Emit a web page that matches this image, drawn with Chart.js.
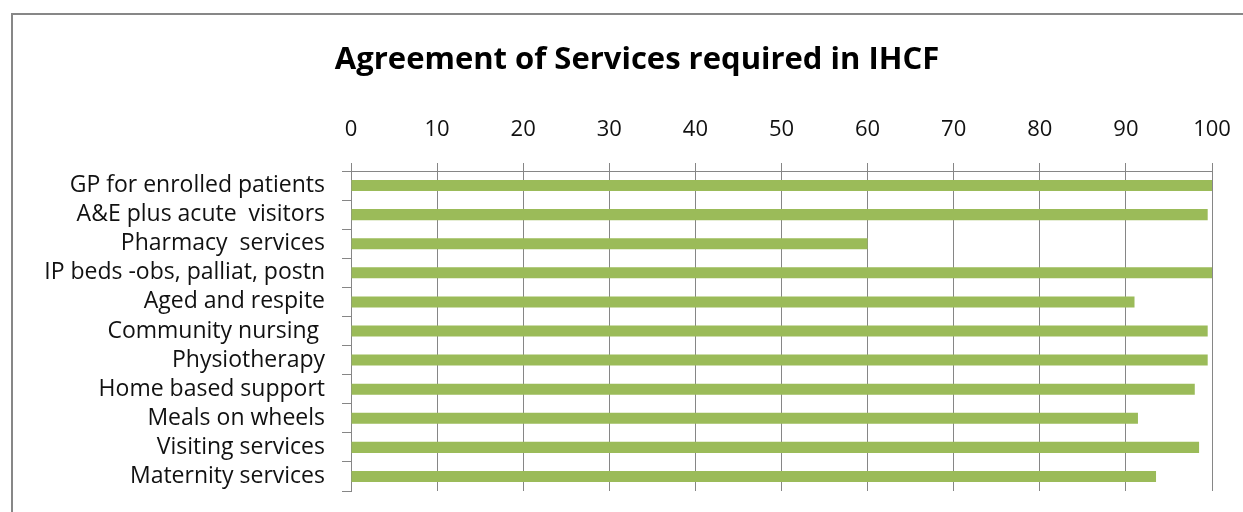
<!DOCTYPE html>
<html>
<head>
<meta charset="utf-8">
<script src="https://cdn.jsdelivr.net/npm/chart.js"></script>
<style>
    body { margin: 0; background: #fff; }
    #wrap { position: relative; width: 1243px; height: 512px; }
</style>
</head>
<body>
<div id="wrap"><canvas id="servicesChart" width="1243" height="512"></canvas></div>
<script>
// Chart data
const services = [
    'GP for enrolled patients',
    'A&E plus acute  visitors',
    'Pharmacy  services',
    'IP beds -obs, palliat, postn',
    'Aged and respite',
    'Community nursing ',
    'Physiotherapy',
    'Home based support',
    'Meals on wheels',
    'Visiting services',
    'Maternity services'
];
const agreement = [100, 99.5, 60, 100, 91, 99.5, 99.5, 98, 91.4, 98.5, 93.5];
const xTicks = [0, 10, 20, 30, 40, 50, 60, 70, 80, 90, 100];
const chartTitle = 'Agreement of Services required in IHCF';

const fontFamily = '"Open Sans", sans-serif';
const gridColor = '#868686';

// grey outer frame like the spreadsheet chart border
const framePlugin = {
    id: 'frame',
    beforeDraw(chart) {
        const ctx = chart.ctx;
        ctx.save();
        ctx.fillStyle = '#fff';
        ctx.fillRect(0, 0, chart.width, chart.height);
        ctx.strokeStyle = '#878787';
        ctx.lineWidth = 2;
        ctx.strokeRect(12, 14, 1300, 600);
        ctx.restore();
    }
};

// title sits a little right of the canvas centre, like the original
const titlePlugin = {
    id: 'offsetTitle',
    afterDraw(chart) {
        const ctx = chart.ctx;
        ctx.save();
        ctx.font = 'bold 31px ' + fontFamily;
        ctx.fillStyle = '#000';
        ctx.textAlign = 'center';
        ctx.textBaseline = 'middle';
        ctx.fillText(chartTitle, 637, 60);
        ctx.restore();
    }
};

const ctx = document.getElementById('servicesChart').getContext('2d');
new Chart(ctx, {
    type: 'bar',
    data: {
        labels: services,
        datasets: [{
            data: agreement,
            backgroundColor: '#9bbb59',
            borderWidth: 0,
            barPercentage: 0.38,
            categoryPercentage: 1
        }]
    },
    options: {
        indexAxis: 'y',
        responsive: false,
        animation: false,
        layout: { padding: { left: 0, right: 31, top: 79, bottom: 21 } },
        plugins: {
            legend: { display: false },
            tooltip: { enabled: false },
            title: { display: false }
        },
        scales: {
            x: {
                position: 'top',
                min: 0,
                max: 100,
                afterBuildTicks: scale => { scale.ticks = xTicks.map(v => ({ value: v })); },
                afterFit: scale => {
                    scale.height = 92;
                    scale.paddingLeft = 0;
                    scale.paddingRight = 0;
                },
                grid: { color: gridColor, lineWidth: 1, tickLength: 8, drawTicks: true },
                border: { display: true, color: gridColor },
                ticks: {
                    color: '#111',
                    padding: 20,
                    font: { family: fontFamily, size: 22 }
                }
            },
            y: {
                afterFit: scale => {
                    scale.width = 351;
                    scale.paddingTop = 0;
                    scale.paddingBottom = 0;
                },
                grid: { drawOnChartArea: false, drawTicks: true, tickLength: 9, color: gridColor },
                border: { display: true, color: gridColor },
                ticks: {
                    color: '#111',
                    padding: 17,
                    autoSkip: false,
                    font: { family: fontFamily, size: 23 }
                }
            }
        }
    },
    plugins: [framePlugin, titlePlugin]
});
</script>
</body>
</html>
